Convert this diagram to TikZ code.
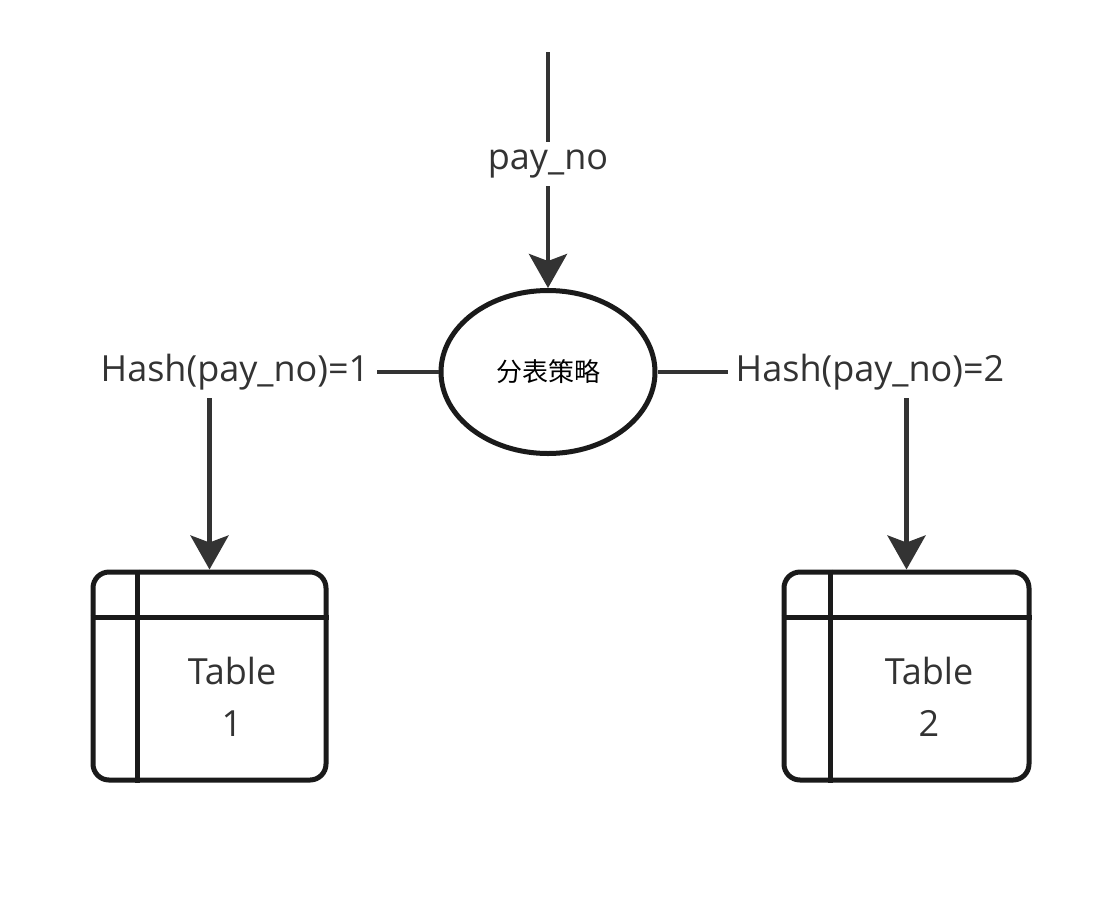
\documentclass[tikz,border=0pt]{standalone}
\usepackage{fontspec}
\setmainfont{Open Sans}
\newfontfamily\cjk{Noto Sans CJK SC}
\usetikzlibrary{arrows.meta,shapes.geometric}
\definecolor{ink}{HTML}{333333}
\definecolor{edge}{HTML}{1A1A1A}

\begin{document}
\begin{tikzpicture}[x=1pt, y=-1pt,
  lbl/.style={text=ink, font=\fontsize{36}{52}\selectfont, inner sep=8pt},
  conn/.style={draw=ink, line width=4.5pt},
  arr/.style={-{Stealth[length=34pt, width=38pt, inset=7pt]}},
  tbl/.style={draw=edge, line width=5pt, rounded corners=16pt, minimum height=208pt}]
  \fill[white] (0,0) rectangle (1093,914);
  \useasboundingbox (0,0) rectangle (1093,914);
  \coordinate (Src) at (548,52);
  \node (Pay) at (548,164) [lbl] {pay\_no};
  \node (Split) at (548,372) [ellipse, draw=edge, line width=5pt, minimum width=214pt, minimum height=163pt, font=\cjk\fontsize{26}{30}\selectfont] {分表策略};
  \node (H1) at (235,372) [lbl] {Hash(pay\_no)=1};
  \node (H2) at (870,372) [lbl] {Hash(pay\_no)=2};
  \node (T1) at (209.5,676) [tbl, minimum width=233pt] {};
  \node (T2) at (906.5,676) [tbl, minimum width=245pt] {};
  \draw[edge, line width=5pt] (T1.west |- 0,617) -- (T1.east |- 0,617);
  \draw[edge, line width=5pt] (T1.north -| 137,0) -- (T1.south -| 137,0);
  \draw[edge, line width=5pt] (T2.west |- 0,617) -- (T2.east |- 0,617);
  \draw[edge, line width=5pt] (T2.north -| 830,0) -- (T2.south -| 830,0);
  \node (T1txt) at (232,697) [lbl, align=center] {Table\\1};
  \node (T2txt) at (929,697) [lbl, align=center] {Table\\2};
  \draw[conn] (Src) -- (Pay);
  \draw[conn, arr] (Pay) -- (Split);
  \draw[conn] (Split) -- (H1);
  \draw[conn] (Split) -- (H2);
  \draw[conn, arr] (H1.south -| T1.north) -- (T1);
  \draw[conn, arr] (H2.south -| T2.north) -- (T2);
\end{tikzpicture}
\end{document}
